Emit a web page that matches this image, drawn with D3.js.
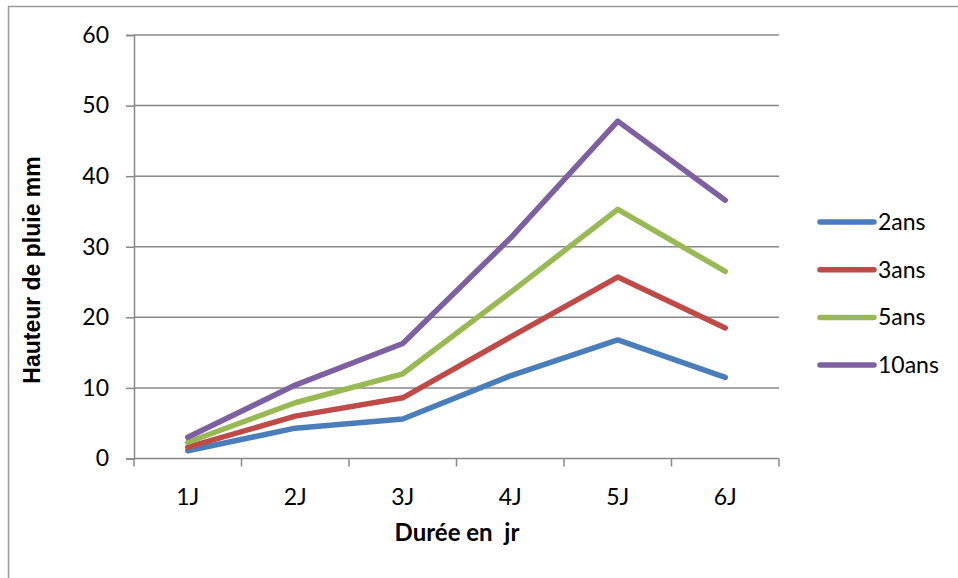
<!DOCTYPE html>
<html>
<head>
<meta charset="utf-8">
<script src="https://cdn.jsdelivr.net/npm/d3@7/dist/d3.min.js"></script>
<style>
  html, body { margin: 0; padding: 0; background: #fff; }
  svg { display: block; font-family: Lato, "Open Sans", sans-serif; }
</style>
</head>
<body>
<svg id="chart" width="958" height="578"></svg>
<script>
// Durées de pluie (jours)
const categories = ["1J", "2J", "3J", "4J", "5J", "6J"];

// Hauteur de pluie (mm) par période de retour
const pluie2ans  = [1.1, 4.3, 5.6, 11.7, 16.8, 11.5];
const pluie3ans  = [1.6, 6.0, 8.6, 17.2, 25.7, 18.5];
const pluie5ans  = [2.3, 7.9, 12.0, 23.5, 35.3, 26.5];
const pluie10ans = [3.0, 10.4, 16.3, 31.2, 47.8, 36.6];

const seriesNames = ["2ans", "3ans", "5ans", "10ans"];
const seriesValues = [pluie2ans, pluie3ans, pluie5ans, pluie10ans];
const seriesColors = ["#4a7ebb", "#be4b48", "#98b954", "#7d60a0"];

const yTicks = [0, 10, 20, 30, 40, 50, 60];

const svg = d3.select("#chart");
const margin = { left: 134, right: 179, top: 35, bottom: 119.5 };
const W = 958, H = 578;
const innerW = W - margin.left - margin.right;
const innerH = H - margin.top - margin.bottom;

// Chart frame
svg.append("rect")
  .attr("x", 8.5).attr("y", 6.5)
  .attr("width", W + 10).attr("height", H + 10)
  .attr("fill", "none").attr("stroke", "#9a9a9a").attr("stroke-width", 1.5);

const x = d3.scaleBand().domain(categories).range([0, innerW]).paddingInner(0).paddingOuter(0);
const y = d3.scaleLinear().domain([0, 60]).range([innerH, 0]);

const g = svg.append("g").attr("transform", `translate(${margin.left},${margin.top})`);

// Horizontal gridlines
g.append("g")
  .selectAll("line").data(yTicks.filter(t => t > 0)).join("line")
  .attr("x1", 0).attr("x2", innerW)
  .attr("y1", d => y(d)).attr("y2", d => y(d))
  .attr("stroke", "#888").attr("stroke-width", 1.5);

// Y axis
const yAxis = g.append("g")
  .call(d3.axisLeft(y).tickValues(yTicks).tickSize(8).tickPadding(17));
yAxis.attr("font-family", null).attr("font-size", null);
yAxis.select(".domain").attr("stroke", "#888").attr("stroke-width", 1.5);
yAxis.selectAll(".tick line").attr("stroke", "#888").attr("stroke-width", 1.5);
yAxis.selectAll(".tick text").style("font-size", "23px").attr("fill", "#000");

// X axis with tick marks at band boundaries
const xAxisG = g.append("g").attr("transform", `translate(0,${innerH})`);
xAxisG.append("line").attr("x1", 0).attr("x2", innerW)
  .attr("stroke", "#888").attr("stroke-width", 1.5);
const boundaries = categories.map(c => x(c)).concat([innerW]);
xAxisG.selectAll("line.tk").data(boundaries).join("line").attr("class", "tk")
  .attr("x1", d => d).attr("x2", d => d).attr("y1", 0).attr("y2", 8)
  .attr("stroke", "#888").attr("stroke-width", 1.5);
xAxisG.selectAll("text").data(categories).join("text")
  .attr("x", d => x(d) + x.bandwidth() / 2).attr("y", 46)
  .attr("text-anchor", "middle").style("font-size", "23px").attr("fill", "#000")
  .text(d => d);

// Lines
const line = d3.line()
  .x((d, i) => x(categories[i]) + x.bandwidth() / 2)
  .y(d => y(d));

seriesValues.forEach((vals, i) => {
  g.append("path").datum(vals)
    .attr("d", line)
    .attr("fill", "none")
    .attr("stroke", seriesColors[i])
    .attr("stroke-width", 5.5)
    .attr("stroke-linejoin", "round")
    .attr("stroke-linecap", "round");
});

// Axis titles
svg.append("text")
  .attr("x", 457).attr("y", 541)
  .attr("text-anchor", "middle").style("font-size", "24px").attr("font-weight", "bold")
  .attr("fill", "#000").attr("xml:space", "preserve")
  .text("Durée en  jr");

svg.append("text")
  .attr("transform", "translate(40,270) rotate(-90)")
  .attr("text-anchor", "middle").style("font-size", "23px").attr("font-weight", "bold")
  .style("font-family", "'Liberation Sans', Arial, sans-serif")
  .attr("fill", "#000")
  .text("Hauteur de pluie mm");

// Legend
const legend = svg.append("g").attr("transform", "translate(820,222)");
seriesNames.forEach((name, i) => {
  const row = legend.append("g").attr("transform", `translate(0,${i * 47.7})`);
  row.append("line").attr("x1", 0).attr("x2", 54)
    .attr("stroke", seriesColors[i]).attr("stroke-width", 5.5).attr("stroke-linecap", "round");
  row.append("text").attr("x", 58).attr("y", 8)
    .style("font-size", "23px").attr("fill", "#000").text(name);
});
</script>
</body>
</html>
